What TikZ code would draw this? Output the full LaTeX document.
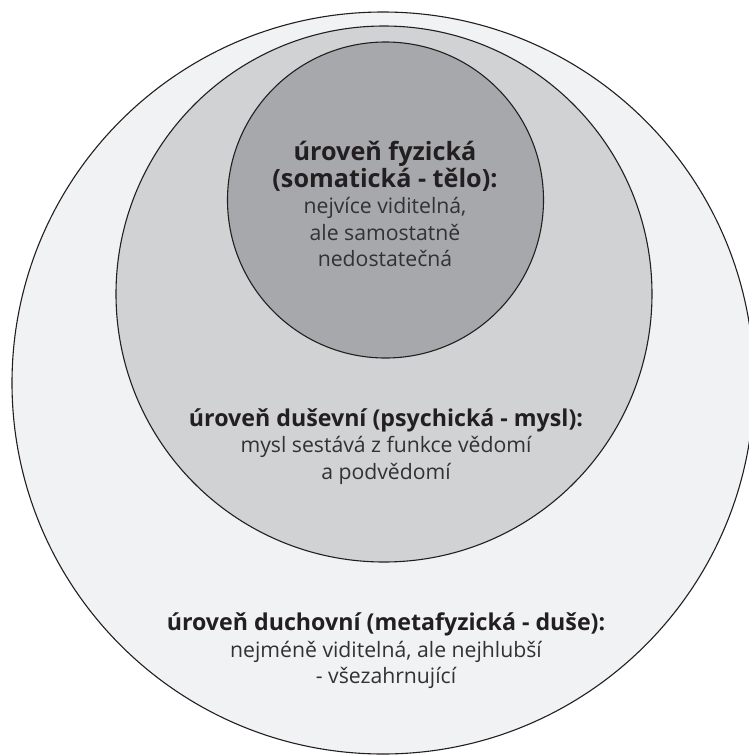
\documentclass[tikz,border=0pt]{standalone}
\usepackage{fontspec}
\setmainfont{Open Sans}
\definecolor{outerfill}{HTML}{F1F2F4}
\definecolor{midfill}{HTML}{D1D2D4}
\definecolor{innerfill}{HTML}{A7A8AB}
\definecolor{ink}{HTML}{231F20}
\definecolor{inkreg}{HTML}{333132}
\newcommand{\hd}[1]{{\fontsize{23.2}{26.5}\selectfont\bfseries\color{ink}#1}}
\newcommand{\hdbig}[1]{{\fontsize{25.2}{26.5}\selectfont\bfseries\color{ink}#1}}
\tikzset{
  ring/.style={draw=ink, line width=1.1pt},
  lbl/.style={align=center, text=inkreg, font=\fontsize{21.2}{26.5}\selectfont, inner sep=0pt},
}
\begin{document}
\begin{tikzpicture}[x=1pt,y=-1pt]
\useasboundingbox (0,0) rectangle (749,756);
\clip (0,0) rectangle (749,756);
\fill[white] (0,0) rectangle (749,756);
\draw[ring, fill=outerfill] (383,383) circle[radius=371];
\draw[ring, fill=midfill] (384,294) circle[radius=268];
\draw[ring, fill=innerfill] (385.5,200) circle[radius=158];
\node[lbl] (phys) at (385,204) {\hdbig{úroveň fyzická}\\\hdbig{(somatická - tělo):}\\nejvíce viditelná,\\ale samostatně\\nedostatečná};
\node[lbl] (psych) at (386,446.5) {\hd{úroveň duševní (psychická - mysl):}\\mysl sestává z funkce vědomí\\a podvědomí};
\node[lbl] (spirit) at (386,651) {\hd{úroveň duchovní (metafyzická - duše):}\\nejméně viditelná, ale nejhlubší\\- všezahrnující};
\end{tikzpicture}
\end{document}
